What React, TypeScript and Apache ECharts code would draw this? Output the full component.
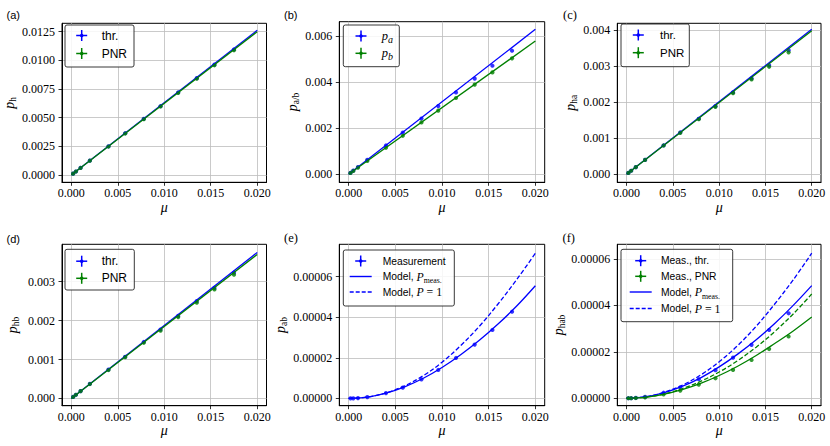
import React, { useEffect, useRef } from 'react';
import * as echarts from 'echarts';

// ---------- data ----------
const muPoints = [0.0002, 0.0005, 0.001, 0.002, 0.004, 0.0058, 0.0078, 0.0096, 0.0115, 0.0135, 0.0154, 0.0175];
const muLine = [0, 0.02];
const muCurve = [0, 0.002, 0.004, 0.006, 0.008, 0.01, 0.012, 0.014, 0.016, 0.018, 0.02];
const xTicks = [0, 0.005, 0.01, 0.015, 0.02];

// (a) p_h
const aThrPts = [0.000125, 0.00031, 0.00063, 0.00126, 0.0025, 0.00365, 0.0049, 0.006, 0.0072, 0.00845, 0.00963, 0.01095];
const aPnrPts = [0.000124, 0.00031, 0.00062, 0.00125, 0.00249, 0.00362, 0.00487, 0.00598, 0.00717, 0.0084, 0.00957, 0.01088];
const aThrLine = [0, 0.01262];
const aPnrLine = [0, 0.0125];
const aTicks = [0, 0.0025, 0.005, 0.0075, 0.01, 0.0125];

// (b) p_a / p_b
const bPaPts = [0.000063, 0.000157, 0.000315, 0.00063, 0.00125, 0.00181, 0.00242, 0.00296, 0.00355, 0.00415, 0.00471, 0.00536];
const bPbPts = [0.000058, 0.000145, 0.00029, 0.00058, 0.00115, 0.00167, 0.00225, 0.00276, 0.00331, 0.00389, 0.00442, 0.00503];
const bPaLine = [0, 0.00629];
const bPbLine = [0, 0.00578];
const bTicks = [0, 0.002, 0.004, 0.006];

// (c) p_ha
const cThrPts = [0.00004, 0.0001, 0.0002, 0.0004, 0.0008, 0.00116, 0.00154, 0.00189, 0.00227, 0.00266, 0.00302, 0.00344];
const cPnrPts = [0.00004, 0.0001, 0.0002, 0.0004, 0.0008, 0.00115, 0.00153, 0.00187, 0.00225, 0.00263, 0.00298, 0.00338];
const cThrLine = [0, 0.00402];
const cPnrLine = [0, 0.00398];
const cTicks = [0, 0.001, 0.002, 0.003, 0.004];

// (d) p_hb
const dThrPts = [0.000038, 0.000094, 0.000188, 0.000375, 0.00074, 0.00107, 0.00145, 0.00177, 0.00212, 0.0025, 0.00284, 0.00323];
const dPnrPts = [0.000037, 0.000093, 0.000186, 0.00037, 0.00073, 0.00106, 0.00143, 0.00174, 0.00209, 0.00246, 0.0028, 0.00318];
const dThrLine = [0, 0.00375];
const dPnrLine = [0, 0.0037];
const dTicks = [0, 0.001, 0.002, 0.003];

// (e) p_ab
const eMeasPts = [0.00000001, 0.00000004, 0.00000016, 0.00000065, 0.0000026, 0.0000053, 0.0000094, 0.000014, 0.0000199, 0.0000265, 0.0000337, 0.0000427];
const eModelMeas = [0, 0.00000064, 0.0000026, 0.0000057, 0.0000099, 0.0000152, 0.0000215, 0.0000286, 0.0000366, 0.0000455, 0.0000555];
const eModelP1 = [0, 0.00000065, 0.0000027, 0.0000062, 0.0000112, 0.0000178, 0.000026, 0.0000355, 0.0000465, 0.0000585, 0.0000715];
const eTicks = [0, 0.00002, 0.00004, 0.00006];

// (f) p_hab
const fThrPts = [0.00000001, 0.00000003, 0.00000015, 0.0000006, 0.0000024, 0.0000046, 0.0000082, 0.0000121, 0.0000175, 0.000023, 0.0000294, 0.0000366];
const fPnrPts = [0.00000001, 0.00000002, 0.0000001, 0.0000004, 0.0000017, 0.0000033, 0.0000059, 0.0000086, 0.0000122, 0.0000165, 0.0000212, 0.0000266];
const fThrModelMeas = [0, 0.0000006, 0.0000023, 0.0000051, 0.0000088, 0.0000135, 0.000019, 0.0000252, 0.0000322, 0.00004, 0.0000485];
const fThrModelP1 = [0, 0.0000006, 0.0000025, 0.0000056, 0.00001, 0.0000157, 0.0000227, 0.000031, 0.0000406, 0.000051, 0.0000625];
const fPnrModelMeas = [0, 0.0000004, 0.0000017, 0.0000037, 0.0000064, 0.0000098, 0.0000138, 0.0000184, 0.0000236, 0.000029, 0.000035];
const fPnrModelP1 = [0, 0.00000045, 0.0000018, 0.0000041, 0.0000073, 0.0000113, 0.0000162, 0.000022, 0.0000287, 0.0000363, 0.0000449];
const fTicks = [0, 0.00002, 0.00004, 0.00006];

// ---------- styles ----------
const serif = '"Liberation Serif", "DejaVu Serif", serif';
const sans = '"Liberation Sans", "DejaVu Sans", sans-serif';
const BLUE = '#0000ff';
const GREEN = '#008000';
const GRIDC = '#bdbdbd';

const pair = (xs: number[], ys: number[]) => xs.map((x, i) => [x, ys[i]]);

const mathRich = {
  p: { fontFamily: serif, fontStyle: 'italic', fontSize: 14, color: '#000', lineHeight: 18 },
  s: { fontFamily: serif, fontSize: 9.5, color: '#000', verticalAlign: 'bottom', lineHeight: 10 },
  si: { fontFamily: serif, fontStyle: 'italic', fontSize: 9.5, color: '#000', verticalAlign: 'bottom', lineHeight: 10 },
};

type Panel = {
  left: number; top: number; width: number; height: number;
  ymin: number; ymax: number; ticks: number[]; dec: number; yname: string; nameGap: number;
};

const panels: Panel[] = [
  { left: 62, top: 23.3, width: 204.5, height: 159, ymin: -0.00063, ymax: 0.01323, ticks: aTicks, dec: 4, yname: '{p|p}{s|h}', nameGap: 42 },
  { left: 339.3, top: 21.7, width: 205.4, height: 160.6, ymin: -0.000347, ymax: 0.00662, ticks: bTicks, dec: 3, yname: '{p|p}{s|a/b}', nameGap: 34 },
  { left: 617.3, top: 23.3, width: 203.7, height: 159, ymin: -0.00022, ymax: 0.004185, ticks: cTicks, dec: 3, yname: '{p|p}{s|ha}', nameGap: 34 },
  { left: 62, top: 244.3, width: 204.5, height: 161.4, ymin: -0.000187, ymax: 0.00396, ticks: dTicks, dec: 3, yname: '{p|p}{s|hb}', nameGap: 41 },
  { left: 339.3, top: 244.3, width: 205.4, height: 161.4, ymin: -0.0000036, ymax: 0.0000759, ticks: eTicks, dec: 5, yname: '{p|p}{s|ab}', nameGap: 48 },
  { left: 617.3, top: 244.3, width: 203.7, height: 161.4, ymin: -0.0000032, ymax: 0.0000663, ticks: fTicks, dec: 5, yname: '{p|p}{s|hab}', nameGap: 47 },
];

function buildOption() {
  const grid = panels.map((p) => ({
    left: p.left, top: p.top, width: p.width, height: p.height,
    show: true, borderColor: '#000', borderWidth: 1, backgroundColor: 'transparent',
    containLabel: false,
  }));
  const xAxis = panels.map((_, i) => ({
    type: 'value', gridIndex: i, min: -0.001, max: 0.021,
    name: '{m|μ}', nameLocation: 'middle', nameGap: 18,
    nameTextStyle: { rich: { m: { fontFamily: serif, fontStyle: 'italic', fontSize: 14, color: '#000' } } },
    axisLine: { show: true, onZero: false, lineStyle: { color: '#000', width: 1 } },
    axisTick: { show: true, length: 3.5, customValues: xTicks, lineStyle: { color: '#000', width: 0.8 } },
    axisLabel: { customValues: xTicks, formatter: (v: number) => v.toFixed(3), margin: 5, fontFamily: serif, fontSize: 12, color: '#000' },
    splitLine: { show: true, lineStyle: { color: GRIDC, width: 0.8 } },
  }));
  const yAxis = panels.map((p, i) => ({
    type: 'value', gridIndex: i, min: p.ymin, max: p.ymax,
    name: p.yname, nameLocation: 'middle', nameGap: p.nameGap, nameRotate: 90,
    nameTextStyle: { rich: mathRich },
    axisLine: { show: true, onZero: false, lineStyle: { color: '#000', width: 1 } },
    axisTick: { show: true, length: 3.5, customValues: p.ticks, lineStyle: { color: '#000', width: 0.8 } },
    axisLabel: { customValues: p.ticks, formatter: (v: number) => v.toFixed(p.dec), margin: 7, fontFamily: serif, fontSize: 12, color: '#000' },
    splitLine: { show: true, lineStyle: { color: GRIDC, width: 0.8 } },
  }));

  const line = (i: number, xs: number[], ys: number[], color: string, dashed = false, smooth = false) => ({
    type: 'line', xAxisIndex: i, yAxisIndex: i, data: pair(xs, ys), showSymbol: false, symbol: 'none',
    smooth: smooth ? 0.35 : false, silent: true,
    lineStyle: { color, width: 1.3, type: dashed ? [4.5, 2.2] : 'solid' },
  });
  const pts = (i: number, ys: number[], color: string) => ({
    type: 'scatter', xAxisIndex: i, yAxisIndex: i, data: pair(muPoints, ys), symbol: 'circle', symbolSize: 4.2,
    silent: true, itemStyle: { color },
  });

  const series = [
    pts(0, aThrPts, BLUE), pts(0, aPnrPts, GREEN), line(0, muLine, aThrLine, BLUE), line(0, muLine, aPnrLine, GREEN),
    pts(1, bPaPts, BLUE), pts(1, bPbPts, GREEN), line(1, muLine, bPaLine, BLUE), line(1, muLine, bPbLine, GREEN),
    pts(2, cThrPts, BLUE), pts(2, cPnrPts, GREEN), line(2, muLine, cThrLine, BLUE), line(2, muLine, cPnrLine, GREEN),
    pts(3, dThrPts, BLUE), pts(3, dPnrPts, GREEN), line(3, muLine, dThrLine, BLUE), line(3, muLine, dPnrLine, GREEN),
    pts(4, eMeasPts, BLUE), line(4, muCurve, eModelMeas, BLUE, false, true), line(4, muCurve, eModelP1, BLUE, true, true),
    pts(5, fThrPts, BLUE), pts(5, fPnrPts, GREEN),
    line(5, muCurve, fThrModelMeas, BLUE, false, true), line(5, muCurve, fThrModelP1, BLUE, true, true),
    line(5, muCurve, fPnrModelMeas, GREEN, false, true), line(5, muCurve, fPnrModelP1, GREEN, true, true),
  ];

  // ---------- legends & panel labels (graphic) ----------
  const g: any[] = [];
  const box = (x: number, y: number, w: number, h: number) =>
    g.push({ type: 'rect', z: 100, shape: { x, y, width: w, height: h, r: 2 }, style: { fill: 'rgba(255,255,255,0.85)', stroke: '#222', lineWidth: 0.9 } });
  const errHandle = (cx: number, cy: number, color: string) => {
    g.push({ type: 'line', z: 101, shape: { x1: cx - 5.5, y1: cy, x2: cx + 5.5, y2: cy }, style: { stroke: color, lineWidth: 1.5 } });
    g.push({ type: 'line', z: 101, shape: { x1: cx, y1: cy - 5.5, x2: cx, y2: cy + 5.5 }, style: { stroke: color, lineWidth: 1.5 } });
    g.push({ type: 'circle', z: 101, shape: { cx, cy, r: 1.8 }, style: { fill: color } });
  };
  const lineHandle = (cx: number, cy: number, color: string, dashed: boolean) =>
    g.push({ type: 'line', z: 101, shape: { x1: cx - 11, y1: cy, x2: cx + 11, y2: cy }, style: { stroke: color, lineWidth: 1.4, lineDash: dashed ? [4, 2] : null } });
  const label = (x: number, y: number, text: string, size: number, rich?: any) =>
    g.push({ type: 'text', z: 102, style: { x, y, text, rich, fontFamily: sans, fontSize: size, fill: '#000', verticalAlign: 'middle', align: 'left' } });

  const legRich = (size: number) => ({
    t: { fontFamily: sans, fontSize: size, color: '#000', lineHeight: 16 },
    p: { fontFamily: serif, fontStyle: 'italic', fontSize: size + 1.5, color: '#000', lineHeight: 16 },
    r: { fontFamily: serif, fontSize: size + 1.5, color: '#000', lineHeight: 16 },
    s: { fontFamily: serif, fontSize: size - 2.5, color: '#000', verticalAlign: 'bottom', lineHeight: 8 },
    si: { fontFamily: serif, fontStyle: 'italic', fontSize: size - 1, color: '#000', verticalAlign: 'bottom', lineHeight: 8 },
  });

  // (a)
  box(65, 25, 69, 42);
  errHandle(81.7, 35.5, BLUE); label(101.7, 35.5, 'thr.', 12);
  errHandle(81.7, 53.5, GREEN); label(101.7, 53.5, 'PNR', 12);
  // (b)
  box(343.3, 25, 56, 41.7);
  errHandle(361, 36, BLUE); label(381.7, 36, '{p|p}{si|a}', 11, legRich(11));
  errHandle(361, 53.3, GREEN); label(381.7, 53.3, '{p|p}{si|b}', 11, legRich(11));
  // (c)
  box(621, 24, 68.3, 42.7);
  errHandle(638.3, 35, BLUE); label(660, 35, 'thr.', 11.5);
  errHandle(638.3, 52.7, GREEN); label(660, 52.7, 'PNR', 11.5);
  // (d)
  box(65, 249.3, 69.3, 40.7);
  errHandle(81.7, 261.2, BLUE); label(101.7, 261.2, 'thr.', 12);
  errHandle(81.7, 278.3, GREEN); label(101.7, 278.3, 'PNR', 12);
  // (e)
  const re = legRich(10.3);
  box(343.3, 250, 111, 56);
  errHandle(360.7, 261, BLUE); label(382.7, 261, 'Measurement', 10.3);
  lineHandle(360.7, 276.5, BLUE, false); label(382.7, 276.5, '{t|Model, }{p|P}{s|meas.}', 10.3, re);
  lineHandle(360.7, 292, BLUE, true); label(382.7, 292, '{t|Model, }{p|P}{r| = 1}', 10.3, re);
  // (f)
  box(621, 249.3, 111.7, 72.4);
  errHandle(640.7, 260.7, BLUE); label(661, 260.7, 'Meas., thr.', 10.3);
  errHandle(640.7, 276.3, GREEN); label(661, 276.3, 'Meas., PNR', 10.3);
  lineHandle(640.7, 292, BLUE, false); label(661, 292, '{t|Model, }{p|P}{s|meas.}', 10.3, re);
  lineHandle(640.7, 308.5, BLUE, true); label(661, 308.5, '{t|Model, }{p|P}{r| = 1}', 10.3, re);

  // panel labels
  const plab = (x: number, y: number, t: string, fam: string) =>
    g.push({ type: 'text', z: 102, style: { x, y, text: t, fontFamily: fam, fontSize: fam === serif ? 12.5 : 11, fill: '#000', verticalAlign: 'middle', align: 'left' } });
  plab(6.5, 15, '(a)', sans);
  plab(284, 15, '(b)', sans);
  plab(563, 15, '(c)', serif);
  plab(6.5, 239, '(d)', sans);
  plab(284, 237.5, '(e)', serif);
  plab(562.5, 237.5, '(f)', serif);

  return {
    animation: false,
    backgroundColor: '#fff',
    textStyle: { fontFamily: serif },
    grid, xAxis, yAxis, series, graphic: g,
  };
}

export default function App() {
  const ref = useRef<HTMLDivElement>(null);
  useEffect(() => {
    if (!ref.current) return;
    const chart = echarts.init(ref.current, undefined, { renderer: 'svg' });
    chart.setOption(buildOption() as any);
    return () => chart.dispose();
  }, []);
  return <div ref={ref} style={{ position: 'fixed', left: 0, top: 0, width: 830, height: 446 }} />;
}
